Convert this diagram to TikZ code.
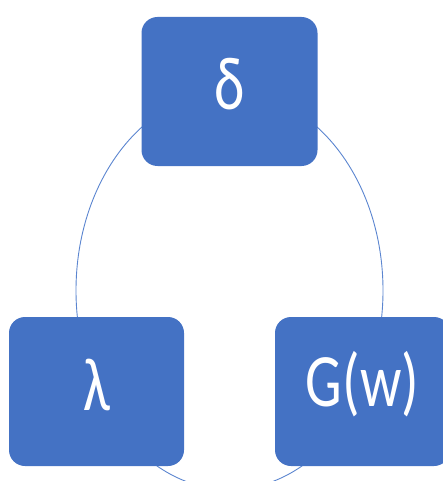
\documentclass[tikz,border=0pt]{standalone}
\usepackage{fontspec}
\setmainfont{Carlito}
\definecolor{boxblue}{HTML}{4472C4}
\definecolor{ringblue}{HTML}{5B85D0}
\newcommand{\tallt}[1]{\raisebox{7pt}[\height][\depth]{\scalebox{1}[1.3]{#1}}}
\begin{document}
\begin{tikzpicture}[x=1pt,y=-1pt,
  termbox/.style={fill=boxblue, draw=none, rounded corners=16pt, text=white,
    font=\fontsize{58}{70}\selectfont, inner sep=0pt},
  ring/.style={draw=ringblue, line width=0.9pt}]
\useasboundingbox (0,0) rectangle (443,481);
\begin{scope}
\clip (0,0) rectangle (443,481);
\draw[ring] (229.5,290.5) ellipse [x radius=153.5, y radius=199];
\node[termbox, minimum width=176pt, minimum height=149pt] (d) at (229.5,91.5) {\tallt{δ}};
\node[termbox, minimum width=175pt, minimum height=149pt] (l) at (96.5,391.5) {\tallt{λ}};
\node[termbox, minimum width=175pt, minimum height=149pt] (g) at (362.5,391.5) {\tallt{G(w)}};
\end{scope}
\end{tikzpicture}
\end{document}
